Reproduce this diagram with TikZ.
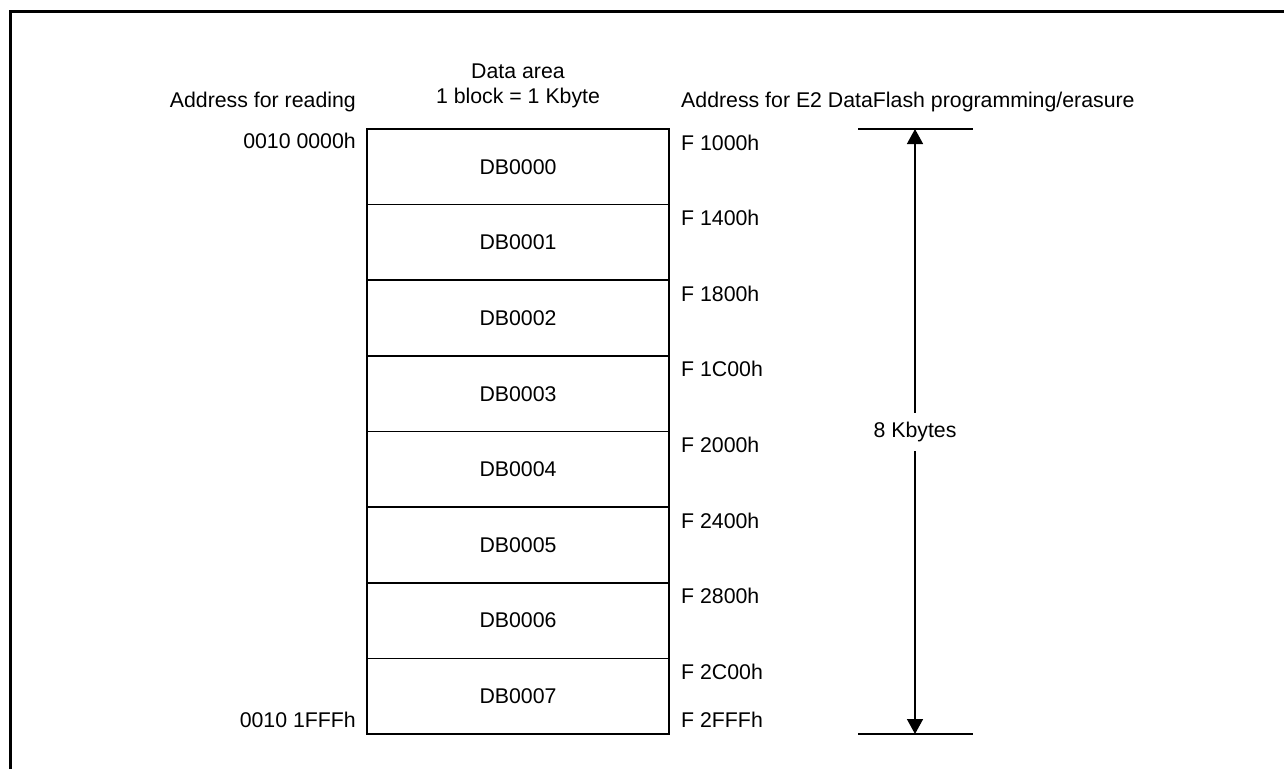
\documentclass[tikz,border=0pt]{standalone}
\usepackage{fontspec}
\setmainfont{Liberation Sans}
\usetikzlibrary{arrows.meta}
\begin{document}
\begin{tikzpicture}[x=1pt,y=-1pt,
  every node/.style={font=\fontsize{21.3}{25}\selectfont},
  blockbox/.style={draw,line width=1.6pt,minimum width=302pt,minimum height=75.625pt,inner sep=0pt,outer sep=0pt},
  addr/.style={inner sep=0pt},
  frameline/.style={line width=3pt},
  dimline/.style={line width=1.5pt},
  dimarrow/.style={line width=1.5pt,-{Triangle[length=15pt,width=16pt]}}
]
\useasboundingbox (0,0) rectangle (1284,769);
% frame
\coordinate (fr1) at (10,769);
\coordinate (fr2) at (10,11);
\coordinate (fr3) at (1284,11);
\draw[frameline] (fr1) -- (fr2) -- (fr3);
% headings
\node[addr,anchor=base east] (hl) at (356,107) {Address for reading};
\node[addr,anchor=base] (hc1) at (518,78) {Data area};
\node[addr,anchor=base] (hc2) at (518,103) {1 block = 1 Kbyte};
\node[addr,anchor=base west] (hr) at (681,107) {Address for E2 DataFlash programming/erasure};
% blocks
\foreach \i in {0,...,7} {
  \node[blockbox] (b\i) at (518,{129+75.625*(\i+0.5)}) {DB000\i};
}
% right addresses
\foreach \i/\t in {0/F 1000h,1/F 1400h,2/F 1800h,3/F 1C00h,4/F 2000h,5/F 2400h,6/F 2800h,7/F 2C00h} {
  \node[addr,anchor=base west] (r\i) at (681,{129+75.625*\i+21}) {\t};
}
\node[addr,anchor=base west] (rend) at (681,727.5) {F 2FFFh};
% left addresses
\node[addr,anchor=base east] (lstart) at (356,148.5) {0010 0000h};
\node[addr,anchor=base east] (lend) at (356,727.5) {0010 1FFFh};
% dimension
\coordinate (dt1) at (858,129);
\coordinate (dt2) at (973,129);
\coordinate (db1) at (858,734);
\coordinate (db2) at (973,734);
\coordinate (dtop) at (915,129);
\coordinate (dbot) at (915,734);
\draw[dimline] (dt1) -- (dt2);
\draw[dimline] (db1) -- (db2);
\node[inner sep=0pt,minimum height=38pt] (kb) at (915,432) {8 Kbytes};
\draw[dimarrow] (kb.north -| dtop) -- (dtop);
\draw[dimarrow] (kb.south -| dbot) -- (dbot);
\end{tikzpicture}
\end{document}
